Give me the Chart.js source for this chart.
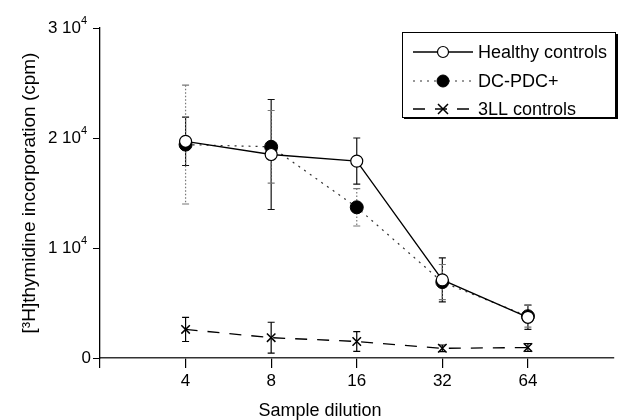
<!DOCTYPE html>
<html>
<head>
<meta charset="utf-8">
<script src="https://cdn.jsdelivr.net/npm/chart.js@4.4.1/dist/chart.umd.min.js"></script>
<style>
  html, body { margin: 0; padding: 0; background: #fff; }
  #wrap { width: 621px; height: 420px; }
</style>
</head>
<body>
<div id="wrap"><canvas id="chart" width="621" height="420"></canvas></div>
<script>
Chart.defaults.font.family = "'Liberation Sans', Arial, Helvetica, sans-serif";
Chart.defaults.color = "#000";

const FONT = "'Liberation Sans', Arial, sans-serif";

const dilutions = ["4", "8", "16", "32", "64"];
const yTickValues = [0, 10000, 20000, 30000];
const yTickMantissa = ["0", "1", "2", "3"];

const healthy = [19700, 18500, 17900, 7100, 3700];
const healthyErr = [2200, 5000, 2100, 2000, 1100];

const dcpdc = [19400, 19200, 13700, 6900, 3800];
const dcpdcErr = [5400, 3300, 1700, 1600, 1000];

const lll = [2600, 1850, 1500, 880, 950];
const lllErr = [1100, 1400, 900, 300, 350];

const toPoints = vals => vals.map((v, i) => ({ x: i + 1, y: v }));

// -----------------------
// error bars, drawn from the scales
// -----------------------
const errorBars = {
  id: "errorBars",
  beforeDatasetsDraw(chart) {
    const { ctx, scales: { x, y } } = chart;
    chart.data.datasets.forEach(ds => {
      ctx.save();
      ctx.strokeStyle = ds.errColor;
      ctx.lineWidth = 1.2;
      ds.data.forEach((p, i) => {
        const e = ds.errors[i];
        const px = x.getPixelForValue(p.x);
        const top = y.getPixelForValue(p.y + e);
        const bot = y.getPixelForValue(p.y - e);
        ctx.setLineDash(ds.errDash);
        ctx.beginPath();
        ctx.moveTo(px, top);
        ctx.lineTo(px, bot);
        ctx.stroke();
        ctx.setLineDash([]);
        ctx.beginPath();
        ctx.moveTo(px - 3.5, top); ctx.lineTo(px + 3.5, top);
        ctx.moveTo(px - 3.5, bot); ctx.lineTo(px + 3.5, bot);
        ctx.stroke();
      });
      ctx.restore();
    });
  }
};

// -----------------------
// y tick labels (with superscript), boxed legend, x title
// -----------------------
const extras = {
  id: "extras",
  afterDraw(chart) {
    const { ctx, scales: { y } } = chart;
    ctx.save();
    ctx.fillStyle = "#000";

    // y tick labels
    ctx.textBaseline = "middle";
    yTickValues.forEach((v, i) => {
      const py = y.getPixelForValue(v);
      if (v === 0) {
        ctx.font = "17px " + FONT;
        ctx.textAlign = "right";
        ctx.fillText("0", 91, py);
        return;
      }
      ctx.font = "11px " + FONT;
      ctx.textAlign = "left";
      ctx.fillText("4", 81, py - 7);
      ctx.font = "17px " + FONT;
      ctx.textAlign = "right";
      ctx.fillText(yTickMantissa[i] + " 10", 81, py);
    });

    // legend box with a little shadow
    ctx.fillRect(404, 117, 214, 2);
    ctx.fillRect(616, 34, 2, 85);
    ctx.strokeStyle = "#000";
    ctx.lineWidth = 1;
    ctx.strokeRect(402.5, 32.5, 213, 85);

    const rows = [52, 81, 109];
    chart.data.datasets.forEach((ds, i) => {
      const yy = rows[i];
      ctx.strokeStyle = ds.borderColor;
      ctx.lineWidth = ds.borderWidth;
      ctx.setLineDash(ds.borderDash || []);
      ctx.beginPath();
      ctx.moveTo(413, yy);
      ctx.lineTo(473, yy);
      ctx.stroke();
      ctx.setLineDash([]);
      ctx.fillStyle = ds.pointBackgroundColor;
      ctx.strokeStyle = "#000";
      ctx.lineWidth = ds.pointBorderWidth;
      ctx.beginPath();
      if (ds.pointStyle === "circle") {
        ctx.arc(443, yy, ds.pointRadius - 0.5, 0, Math.PI * 2);
        ctx.fill();
        ctx.stroke();
      } else {
        const r = ds.pointRadius - 1;
        ctx.moveTo(443 - r, yy - r); ctx.lineTo(443 + r, yy + r);
        ctx.moveTo(443 - r, yy + r); ctx.lineTo(443 + r, yy - r);
        ctx.stroke();
      }
      ctx.fillStyle = "#000";
      ctx.font = "18px " + FONT;
      ctx.textAlign = "left";
      ctx.textBaseline = "middle";
      ctx.fillText(ds.label, 478, yy + 1);
    });

    ctx.font = "18px " + FONT;
    ctx.textAlign = "center";
    ctx.textBaseline = "middle";
    ctx.fillText("Sample dilution", 320, 411);
    ctx.restore();
  }
};

new Chart(document.getElementById("chart"), {
  type: "line",
  data: {
    datasets: [
      {
        label: "Healthy controls",
        data: toPoints(healthy),
        errors: healthyErr,
        errColor: "#111",
        errDash: [],
        borderColor: "#000",
        borderWidth: 1.3,
        pointStyle: "circle",
        pointRadius: 6,
        pointBackgroundColor: "#fff",
        pointBorderColor: "#000",
        pointBorderWidth: 1.2
      },
      {
        label: "DC-PDC+",
        data: toPoints(dcpdc),
        errors: dcpdcErr,
        errColor: "#777",
        errDash: [1.5, 2],
        borderColor: "#333",
        borderWidth: 1.2,
        borderDash: [2, 5],
        pointStyle: "circle",
        pointRadius: 6.5,
        pointBackgroundColor: "#000",
        pointBorderColor: "#000",
        pointBorderWidth: 1
      },
      {
        label: "3LL controls",
        data: toPoints(lll),
        errors: lllErr,
        errColor: "#000",
        errDash: [],
        borderColor: "#000",
        borderWidth: 1.3,
        borderDash: [12, 10],
        pointStyle: "crossRot",
        pointRadius: 6,
        pointBackgroundColor: "#000",
        pointBorderColor: "#000",
        pointBorderWidth: 1.5
      }
    ]
  },
  options: {
    responsive: false,
    animation: false,
    layout: { padding: { top: 28, right: 0, left: 0, bottom: 0 } },
    plugins: {
      legend: { display: false },
      tooltip: { enabled: false }
    },
    scales: {
      x: {
        type: "linear",
        min: 0,
        max: 6,
        afterBuildTicks: s => { s.ticks = [0, 1, 2, 3, 4, 5].map(v => ({ value: v })); },
        afterFit: s => { s.height = 62; },
        ticks: {
          callback: v => (v >= 1 ? dilutions[v - 1] : ""),
          font: { size: 17 },
          padding: 3,
          maxRotation: 0
        },
        grid: { drawOnChartArea: false, tickLength: 10, color: "#000", lineWidth: 1.2 },
        border: { color: "#333", width: 1.5 }
      },
      y: {
        min: 0,
        max: 30000,
        afterBuildTicks: s => { s.ticks = yTickValues.map(v => ({ value: v })); },
        afterFit: s => { s.width = 100; },
        ticks: {
          callback: () => "",
          padding: 3
        },
        grid: { drawOnChartArea: false, tickLength: 7, color: "#000" },
        border: { color: "#000", width: 1.3 },
        title: {
          display: true,
          text: "[\u00b3H]thymidine incorporation (cpm)",
          font: { size: 19 },
          padding: { top: 18, bottom: 0 }
        }
      }
    }
  },
  plugins: [errorBars, extras]
});
</script>
</body>
</html>
